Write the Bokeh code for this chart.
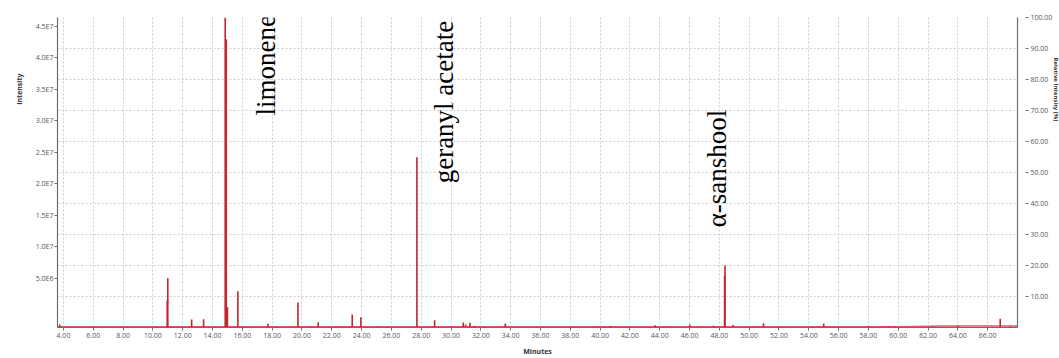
from bokeh.plotting import figure
from bokeh.models import Range1d, LinearAxis, FixedTicker, Label, Title
from bokeh.embed import file_html
from bokeh.resources import INLINE

# Detected peaks: retention time (min) and relative intensity (% of base peak)
peak_times = [3.75, 10.96, 11.0, 12.6, 13.4, 14.85, 14.92, 15.0, 15.7, 17.71,
              19.73, 20.58, 21.09, 22.5, 23.37, 23.95, 25.05, 27.71, 28.9, 30.0,
              30.82, 30.98, 31.27, 31.58, 33.64, 39.64, 40.71, 43.68, 44.5, 46.01,
              46.6, 47.6, 48.35, 48.38, 48.92, 50.55, 50.96, 54.62, 55.0, 58.0,
              58.9, 59.4, 59.8, 63.98, 66.84, 67.5]
peak_rel = [1.0, 8.7, 15.9, 2.6, 2.7, 100.0, 93.0, 6.5, 11.7, 1.2,
            8.1, 0.3, 1.7, 0.3, 4.2, 3.3, 0.3, 54.9, 2.3, 0.3,
            1.6, 1.0, 1.5, 0.5, 1.3, 0.4, 0.5, 0.7, 0.3, 1.0,
            0.3, 0.6, 16.5, 20.0, 0.8, 0.4, 1.4, 0.4, 1.3, 0.4,
            0.3, 0.4, 0.4, 0.5, 2.8, 0.4]

# Detector baseline
baseline_times = [3.6, 20.0, 40.0, 60.0, 63.5, 68.0]
baseline_rel = [0.2, 0.2, 0.2, 0.25, 0.5, 0.5]

# Axis ticks
minute_ticks = list(range(4, 68, 2))
minute_labels = [f"{t:.2f}" for t in minute_ticks]
intensity_ticks = [5e6, 1e7, 1.5e7, 2e7, 2.5e7, 3e7, 3.5e7, 4e7, 4.5e7]
intensity_labels = ["5.0E6", "1.0E7", "1.5E7", "2.0E7", "2.5E7", "3.0E7", "3.5E7", "4.0E7", "4.5E7"]
relative_ticks = [10, 20, 30, 40, 50, 60, 70, 80, 90, 100]
relative_labels = [f"{t:.2f}" for t in relative_ticks]

# Compound annotations
compounds = ["limonene", "geranyl acetate", "α-sanshool"]
compound_t = [17.56, 29.56, 47.81]
compound_y = [68.4, 46.5, 32.3]

RED = "#c4262e"
AXIS = "#6e6e6e"
TICK_TEXT = "#555555"
FONT = "Open Sans"

p = figure(width=1059, height=358, output_backend="svg", toolbar_location=None,
           x_range=Range1d(3.6, 68.0), y_range=Range1d(0, 100),
           y_axis_location="right",
           min_border_left=57, min_border_right=42, min_border_top=17, min_border_bottom=31)
p.outline_line_color = None
p.background_fill_color = "white"
p.border_fill_color = "white"

# absolute intensity scale on the left
p.extra_y_ranges = {"abs": Range1d(-2.8e6, 4.64e7)}
left = LinearAxis(y_range_name="abs")
left.ticker = FixedTicker(ticks=intensity_ticks)
left.major_label_overrides = dict(zip(intensity_ticks, intensity_labels))
p.add_layout(left, "left")
p.add_layout(Title(text="Intensity", align="right", offset=56, standoff=17,
                   text_font=FONT, text_font_style="bold", text_font_size="7px",
                   text_color="#333333"), "left")

right = p.yaxis[0] if p.yaxis[0] is not left else p.yaxis[1]
right.ticker = FixedTicker(ticks=relative_ticks)
right.major_label_overrides = dict(zip(relative_ticks, relative_labels))
right.major_tick_in = -8
right.major_tick_out = 11
right.major_label_standoff = 2
p.add_layout(Title(text="Relative Intensity [%]", align="left", offset=40, standoff=-7,
                   text_font=FONT, text_font_style="bold", text_font_size="6px",
                   text_color="#333333"), "right")

xa = p.xaxis[0]
xa.ticker = FixedTicker(ticks=minute_ticks)
xa.major_label_overrides = dict(zip(minute_ticks, minute_labels))
xa.axis_label = "Minutes"
xa.axis_label_standoff = 6
xa.axis_label_text_font = FONT
xa.axis_label_text_font_style = "bold"
xa.axis_label_text_font_size = "7px"
xa.axis_label_text_color = "#333333"
xa.major_tick_out = 3
xa.major_label_standoff = 2

left.major_tick_out = 3
left.major_label_standoff = 1

for ax in (xa, left, right):
    ax.axis_line_color = AXIS
    ax.axis_line_width = 1.2
    ax.major_tick_line_color = AXIS
    ax.minor_tick_line_color = None
    if ax is not right:
        ax.major_tick_in = 0
    ax.major_label_text_font = FONT
    ax.major_label_text_font_size = "7px"
    ax.major_label_text_color = TICK_TEXT

p.xgrid.ticker = FixedTicker(ticks=minute_ticks)
for g in (p.xgrid[0], p.ygrid[0]):
    g.grid_line_color = "#cdcdcd"
    g.grid_line_dash = "2 2"
    g.grid_line_width = 1

p.line(baseline_times, baseline_rel, line_color="#d65a5f", line_width=1.6)
p.segment(x0=peak_times, y0=[0] * len(peak_times), x1=peak_times, y1=peak_rel,
          line_color=RED, line_width=1.6)

for name, t, y in zip(compounds, compound_t, compound_y):
    p.add_layout(Label(x=t, y=y, text=name, angle=1.5708, text_align="left",
                       text_baseline="alphabetic", text_font="Liberation Serif",
                       text_font_size="27px", text_color="black"))

open("out.html", "w").write(file_html(p, INLINE))
